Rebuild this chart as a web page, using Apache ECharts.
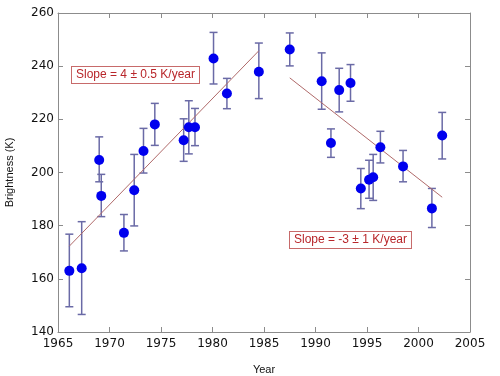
<!DOCTYPE html>
<html>
<head>
<meta charset="utf-8">
<script src="https://cdn.jsdelivr.net/npm/echarts@6/dist/echarts.min.js"></script>
<style>
    html, body { margin: 0; padding: 0; background: #fff; }
    #chart { width: 500px; height: 376px; }
</style>
</head>
<body>
<div id="chart"></div>
<script>
// observation year, brightness temperature (K) and its error bar ends
var years = [1966.1, 1967.3, 1969.0, 1969.2, 1971.4, 1972.4, 1973.3, 1974.4, 1977.2, 1977.7, 1978.3, 1980.1, 1981.4, 1984.5,
    1987.5, 1990.6, 1991.5, 1992.3, 1993.4, 1994.4, 1995.2, 1995.6, 1996.3, 1998.5, 2001.3, 2002.3]
var brightness = [163, 164, 204.7, 191.2, 177.3, 193.3, 208.1, 218.1, 212.1, 217, 217, 242.9, 229.7, 237.9,
    246.3, 234.3, 211.1, 231, 233.7, 194, 197.3, 198.2, 209.5, 202.3, 186.5, 213.9]
var errHigh = [176.8, 181.5, 213.4, 199.3, 184.2, 206.8, 216.6, 226, 220.2, 227, 224.1, 252.7, 235.4, 248.7,
    252.5, 245, 216.4, 239.2, 240.6, 201.5, 204.6, 206.8, 215.5, 208.3, 194, 222.6]
var errLow = [149.5, 146.6, 196.5, 183.4, 170.5, 179.9, 199.8, 210.2, 204.2, 207, 210.1, 233.3, 224, 227.8,
    240.1, 223.8, 205.7, 222.8, 226.8, 186.4, 190.3, 189.5, 203.6, 196.5, 179.3, 205.1]

// straight-line fits
var fitEarlyX = [1966.1, 1984.5]
var fitEarlyY = [172.3, 245.8]
var fitLateX = [1987.5, 2002.3]
var fitLateY = [235.6, 190.7]

var xTicks = [1965, 2005, 5]
var yTicks = [140, 260, 20]

var axisColor = '#8c8c8c'
var font = 'Liberation Sans'

var points = years.map(function (y, i) { return [y, brightness[i]] })
var bars = years.map(function (y, i) { return [y, errLow[i], errHigh[i]] })
var early = fitEarlyX.map(function (x, i) { return [x, fitEarlyY[i]] })
var late = fitLateX.map(function (x, i) { return [x, fitLateY[i]] })

function axisBase(show) {
    return {
        type: 'value',
        splitLine: { show: false },
        axisLine: { show: true, lineStyle: { color: axisColor, width: 1 } },
        axisTick: { show: true, inside: true, length: 5, lineStyle: { color: axisColor } },
        axisLabel: {
            show: show, color: '#111', fontFamily: 'DejaVu Sans', fontSize: 12,
            formatter: function (v) { return String(v) }
        }
    }
}

var chart = echarts.init(document.getElementById('chart'))

var xMain = axisBase(true)
xMain.min = xTicks[0]; xMain.max = xTicks[1]; xMain.interval = xTicks[2]
xMain.position = 'bottom'
xMain.axisLabel.margin = 6
xMain.name = 'Year'
xMain.nameLocation = 'middle'
xMain.nameGap = 32
xMain.nameTextStyle = { color: '#111', fontFamily: font, fontSize: 11 }

var xTop = axisBase(false)
xTop.min = xTicks[0]; xTop.max = xTicks[1]; xTop.interval = xTicks[2]
xTop.position = 'top'

var yMain = axisBase(true)
yMain.min = yTicks[0]; yMain.max = yTicks[1]; yMain.interval = yTicks[2]
yMain.position = 'left'
yMain.axisLabel.margin = 4
yMain.name = 'Brightness (K)'
yMain.nameLocation = 'middle'
yMain.nameGap = 43
yMain.nameTextStyle = { color: '#111', fontFamily: font, fontSize: 11 }

var yRight = axisBase(false)
yRight.min = yTicks[0]; yRight.max = yTicks[1]; yRight.interval = yTicks[2]
yRight.position = 'right'

chart.setOption({
    backgroundColor: '#fff',
    animation: false,
    grid: { left: 58, right: 30, top: 13, bottom: 44, containLabel: false, outerBoundsMode: 'none' },
    xAxis: [xMain, xTop],
    yAxis: [yMain, yRight],
    series: [{
        type: 'custom',
        xAxisIndex: 0,
        yAxisIndex: 0,
        data: bars,
        z: 2,
        renderItem: function (params, api) {
            var lo = api.coord([api.value(0), api.value(1)])
            var hi = api.coord([api.value(0), api.value(2)])
            var cap = 4
            var style = { stroke: '#6a6aa6', lineWidth: 1.5 }
            return {
                type: 'group',
                children: [
                    { type: 'line', shape: { x1: lo[0], y1: lo[1], x2: hi[0], y2: hi[1] }, style: style },
                    { type: 'line', shape: { x1: lo[0] - cap, y1: lo[1], x2: lo[0] + cap, y2: lo[1] }, style: style },
                    { type: 'line', shape: { x1: hi[0] - cap, y1: hi[1], x2: hi[0] + cap, y2: hi[1] }, style: style }
                ]
            }
        }
    }, {
        type: 'line',
        data: early,
        symbol: 'none',
        z: 3,
        lineStyle: { color: '#b06a6a', width: 1 }
    }, {
        type: 'line',
        data: late,
        symbol: 'none',
        z: 3,
        lineStyle: { color: '#b06a6a', width: 1 }
    }, {
        type: 'scatter',
        data: points,
        symbol: 'circle',
        symbolSize: 10,
        z: 4,
        itemStyle: { color: '#0000ee', opacity: 1 }
    }],
    graphic: [{
        type: 'text',
        left: 71,
        top: 66,
        style: {
            text: 'Slope = 4 \u00b1 0.5 K/year',
            fill: '#b8262a',
            font: '12px "Liberation Sans"',
            backgroundColor: '#fff',
            borderColor: '#c76a6a',
            borderWidth: 1,
            padding: [2, 4, 2, 4]
        }
    }, {
        type: 'text',
        left: 289,
        top: 231,
        style: {
            text: 'Slope = -3 \u00b1 1 K/year',
            fill: '#b8262a',
            font: '12px "Liberation Sans"',
            backgroundColor: '#fff',
            borderColor: '#c76a6a',
            borderWidth: 1,
            padding: [2, 4, 2, 4]
        }
    }]
})
</script>
</body>
</html>
